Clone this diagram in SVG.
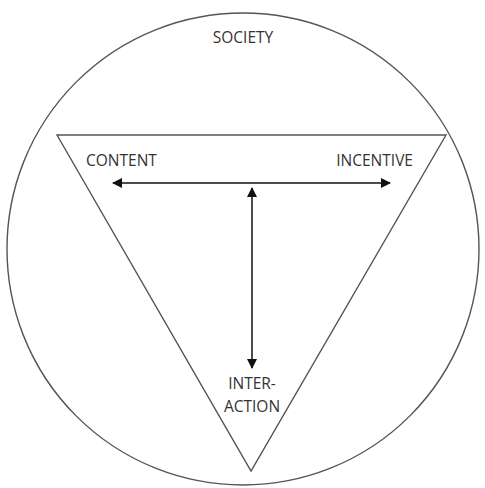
<svg xmlns="http://www.w3.org/2000/svg" width="485" height="488" viewBox="0 0 485 488">
<style>
.s{fill:none;stroke:#555;stroke-width:1.4}
.c{stroke:#111;stroke-width:1.5;fill:none}
text{font-family:"Open Sans","DejaVu Sans",sans-serif;font-size:15.5px;fill:#333}
</style>
<defs>
<marker id="a" viewBox="0 0 10 10" refX="9" refY="5" markerWidth="11" markerHeight="10" markerUnits="userSpaceOnUse" orient="auto-start-reverse">
<path d="M0,0 L10,5 L0,10 z" fill="#111"/>
</marker>
</defs>
<rect width="485" height="488" fill="#fff"/>
<g id="society">
<circle class="s" cx="243" cy="249" r="236"/>
<text x="243" y="43" text-anchor="middle">SOCIETY</text>
</g>
<g id="triangle">
<path class="s" d="M57,135 L446,135 L251,471 Z"/>
</g>
<g id="content"><text x="86" y="166">CONTENT</text></g>
<g id="incentive"><text x="413" y="166" text-anchor="end">INCENTIVE</text></g>
<g id="interaction">
<text x="252" y="389" text-anchor="middle">INTER-</text>
<text x="252" y="412" text-anchor="middle">ACTION</text>
</g>
<g id="connectors">
<line class="c" x1="113" y1="183" x2="390" y2="183" marker-start="url(#a)" marker-end="url(#a)"/>
<line class="c" x1="252" y1="188" x2="252" y2="368" marker-start="url(#a)" marker-end="url(#a)"/>
</g>
</svg>
